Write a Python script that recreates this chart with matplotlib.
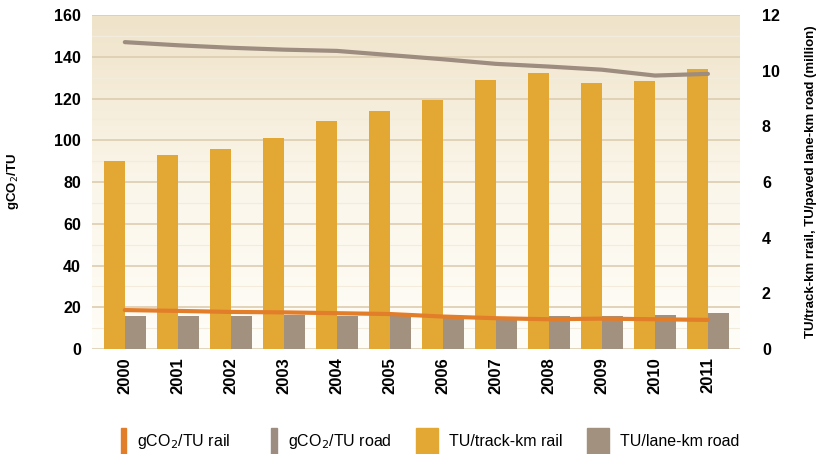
import numpy as np
import matplotlib.pyplot as plt
from matplotlib.patches import Rectangle, Patch
from matplotlib.legend_handler import HandlerPatch
from matplotlib.colors import LinearSegmentedColormap

years = ['2000', '2001', '2002', '2003', '2004', '2005',
         '2006', '2007', '2008', '2009', '2010', '2011']
# left axis, gCO2/TU
co2_rail = [18.7, 18.3, 17.8, 17.6, 17.2, 16.8, 15.6, 14.8, 14.3, 14.6, 14.3, 14.0]
co2_road = [147.0, 145.5, 144.3, 143.4, 142.8, 140.8, 138.8, 136.6, 135.3, 133.8, 131.0, 131.8]
# right axis, million TU per km
tu_rail = [6.75, 6.98, 7.2, 7.58, 8.18, 8.55, 8.96, 9.68, 9.9, 9.56, 9.64, 10.05]
tu_road = [1.2, 1.2, 1.2, 1.22, 1.2, 1.2, 1.18, 1.17, 1.18, 1.2, 1.22, 1.3]

c_orange_bar = '#e3a833'
c_gray_bar = '#a3917f'
c_rail = '#e27d2a'
c_road = '#9d8c80'

plt.rcParams['font.family'] = ['Liberation Sans', 'DejaVu Sans']

fig = plt.figure(figsize=(8.21, 4.54), dpi=100)
ax = fig.add_axes([0.112, 0.231, 0.789, 0.736])
ax2 = ax.twinx()

x = np.arange(len(years))
w = 0.4

# background gradient
grad = np.linspace(0, 1, 256).reshape(-1, 1)
cm = LinearSegmentedColormap.from_list('bg', ['#fffdf8', '#fbf6ea', '#efe3c9'])
ax.imshow(grad, aspect='auto', cmap=cm, extent=[0, 1, 0, 1], transform=ax.transAxes,
          zorder=0, origin='lower')

for yv in range(0, 161, 20):
    ax.axhline(yv, color='#dccdb0', lw=1.2, zorder=1)
for yv in range(10, 161, 20):
    ax.axhline(yv, color='#f3ecdc', lw=0.8, zorder=1)

ax2.bar(x - w / 2, tu_rail, width=w, color=c_orange_bar, zorder=2)
ax2.bar(x + w / 2, tu_road, width=w, color=c_gray_bar, zorder=2)
ax2.plot(x, [v * 12 / 160 for v in co2_road], color=c_road, lw=3, zorder=3,
         solid_capstyle='round')
ax2.plot(x, [v * 12 / 160 for v in co2_rail], color=c_rail, lw=3, zorder=3,
         solid_capstyle='round')

ax.set_ylim(0, 160)
ax2.set_ylim(0, 12)
ax.set_xlim(-0.62, 11.6)
ax.set_yticks(range(0, 161, 20))
ax2.set_yticks(range(0, 13, 2))
ax.set_xticks(x)
ax.set_xticklabels(years, rotation=90, fontweight='bold', fontsize=12)
ax.tick_params(axis='x', length=0, pad=6)
ax.tick_params(axis='y', length=0, pad=8, labelsize=11.5)
ax2.tick_params(axis='y', length=0, pad=16, labelsize=11.5)
for lab in ax.get_yticklabels() + ax2.get_yticklabels():
    lab.set_fontweight('bold')
for a in (ax, ax2):
    for s in a.spines.values():
        s.set_visible(False)

ax.set_ylabel(r'gCO$_2$/TU', fontweight='bold', fontsize=9.5, labelpad=24)
ax2.set_ylabel('TU/track-km rrail, TU/paved lane-km road (million)',
               fontweight='bold', fontsize=9.5, labelpad=18)


def thin_patch(legend, orig_handle, xdescent, ydescent, width, height, fontsize):
    return Rectangle((width * 0.78 - xdescent, -ydescent - height * 0.7), width * 0.22, height * 2.3)


def wide_patch(legend, orig_handle, xdescent, ydescent, width, height, fontsize):
    return Rectangle((width * 0.15 - xdescent, -ydescent - height * 0.7), width * 0.85, height * 2.3)


h1 = Patch(color=c_rail, label=r'gCO$_2$/TU rail')
h2 = Patch(color=c_road, label=r'gCO$_2$/TU road')
h3 = Patch(color=c_orange_bar, label='TU/track-km rail')
h4 = Patch(color=c_gray_bar, label='TU/lane-km road')
fig.legend(handles=[h1, h2, h3, h4], loc='lower left', ncol=4,
           bbox_to_anchor=(0.105, -0.025), frameon=False, fontsize=11.5,
           handlelength=1.6, columnspacing=1.3, handletextpad=0.7,
           handler_map={h1: HandlerPatch(patch_func=thin_patch),
                        h2: HandlerPatch(patch_func=thin_patch),
                        h3: HandlerPatch(patch_func=wide_patch),
                        h4: HandlerPatch(patch_func=wide_patch)})

fig.savefig('out.png', dpi=100)
